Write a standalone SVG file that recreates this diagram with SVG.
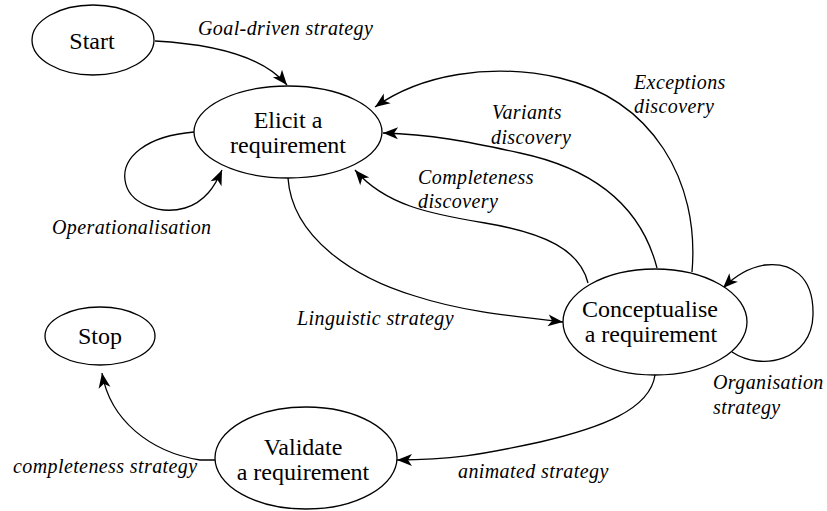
<svg xmlns="http://www.w3.org/2000/svg" width="827" height="511" viewBox="0 0 827 511">
  <style>
    .node ellipse { fill: #ffffff; stroke: #000000; stroke-width: 1.3; }
    .node text { font-family: 'Liberation Serif', serif; font-size: 24px; text-anchor: middle; fill: #000000; }
    .edges path { fill: none; stroke: #000000; stroke-width: 1.3; }
    .edges path.head { fill: #000000; stroke: none; }
    .lbl { font-family: 'Liberation Serif', serif; font-style: italic; font-size: 20px; letter-spacing: 0.4px; fill: #000000; }
  </style>
  <rect width="827" height="511" fill="#ffffff"/>

  <!-- links between states, each with a barbed head at its tip -->
  <g class="edges">
    <path d="M155,41 C210,44 262,55 287,85"/>
    <path class="head" transform="translate(287,85) rotate(50.2)" d="M0,0 L-15,-6 L-11,0 L-15,6 z"/>

    <path d="M194,132 C145,136 122,158 125,180 C128,204 160,215 185,208 C205,202 215,186 222,170"/>
    <path class="head" transform="translate(222,170) rotate(-66.4)" d="M0,0 L-15,-6 L-11,0 L-15,6 z"/>

    <path d="M288,178 C292,238 355,278 415,296 C458,310 500,315 563,322"/>
    <path class="head" transform="translate(563,322) rotate(6.3)" d="M0,0 L-15,-6 L-11,0 L-15,6 z"/>

    <path d="M588,283 C580,250 545,233 485,223 C430,214 385,205 355,170"/>
    <path class="head" transform="translate(355,170) rotate(-130.6)" d="M0,0 L-15,-6 L-11,0 L-15,6 z"/>

    <path d="M657,268 C642,210 600,170 520,153 C470,142 430,134 383,133"/>
    <path class="head" transform="translate(383,133) rotate(-178.8)" d="M0,0 L-15,-6 L-11,0 L-15,6 z"/>

    <path d="M692,272 C700,180 652,100 560,78 C490,62 420,75 375,107"/>
    <path class="head" transform="translate(375,107) rotate(144.6)" d="M0,0 L-15,-6 L-11,0 L-15,6 z"/>

    <path d="M732,352 C762,372 812,360 813,315 C814,275 790,262 765,265 C746,268 733,278 723,288"/>
    <path class="head" transform="translate(723,288) rotate(135)" d="M0,0 L-15,-6 L-11,0 L-15,6 z"/>

    <path d="M655,375 C650,410 600,428 540,442 C480,455 450,460 397,460"/>
    <path class="head" transform="translate(397,460) rotate(180)" d="M0,0 L-15,-6 L-11,0 L-15,6 z"/>

    <path d="M215,460 L200,460 C150,452 110,420 102,373"/>
    <path class="head" transform="translate(102,373) rotate(-99.7)" d="M0,0 L-15,-6 L-11,0 L-15,6 z"/>
  </g>

  <!-- states -->
  <g id="start" class="node">
    <ellipse cx="93" cy="40" rx="61" ry="35"/>
    <text x="92" y="49">Start</text>
  </g>
  <g id="elicit" class="node">
    <ellipse cx="288" cy="132" rx="94" ry="46"/>
    <text x="288" y="128">Elicit  a</text>
    <text x="288" y="153">requirement</text>
  </g>
  <g id="conceptualise" class="node">
    <ellipse cx="655" cy="322" rx="92" ry="53"/>
    <text x="650" y="317">Conceptualise</text>
    <text x="651" y="342">a requirement</text>
  </g>
  <g id="stop" class="node">
    <ellipse cx="100" cy="336" rx="55" ry="29"/>
    <text x="100" y="344">Stop</text>
  </g>
  <g id="validate" class="node">
    <ellipse cx="306" cy="458" rx="91" ry="51"/>
    <text x="303" y="455">Validate</text>
    <text x="303" y="480">a requirement</text>
  </g>

  <!-- strategy names -->
  <g id="labels">
    <text class="lbl" x="198" y="35">Goal-driven strategy</text>
    <text class="lbl" x="52" y="234">Operationalisation</text>
    <text class="lbl" x="297" y="325">Linguistic strategy</text>
    <text class="lbl" x="418" y="184">Completeness</text>
    <text class="lbl" x="418" y="208">discovery</text>
    <text class="lbl" x="492" y="119">Variants</text>
    <text class="lbl" x="491" y="144">discovery</text>
    <text class="lbl" x="634" y="89">Exceptions</text>
    <text class="lbl" x="634" y="113">discovery</text>
    <text class="lbl" x="713" y="389">Organisation</text>
    <text class="lbl" x="713" y="414">strategy</text>
    <text class="lbl" x="458" y="478">animated strategy</text>
    <text class="lbl" x="13" y="473">completeness strategy</text>
  </g>
</svg>
